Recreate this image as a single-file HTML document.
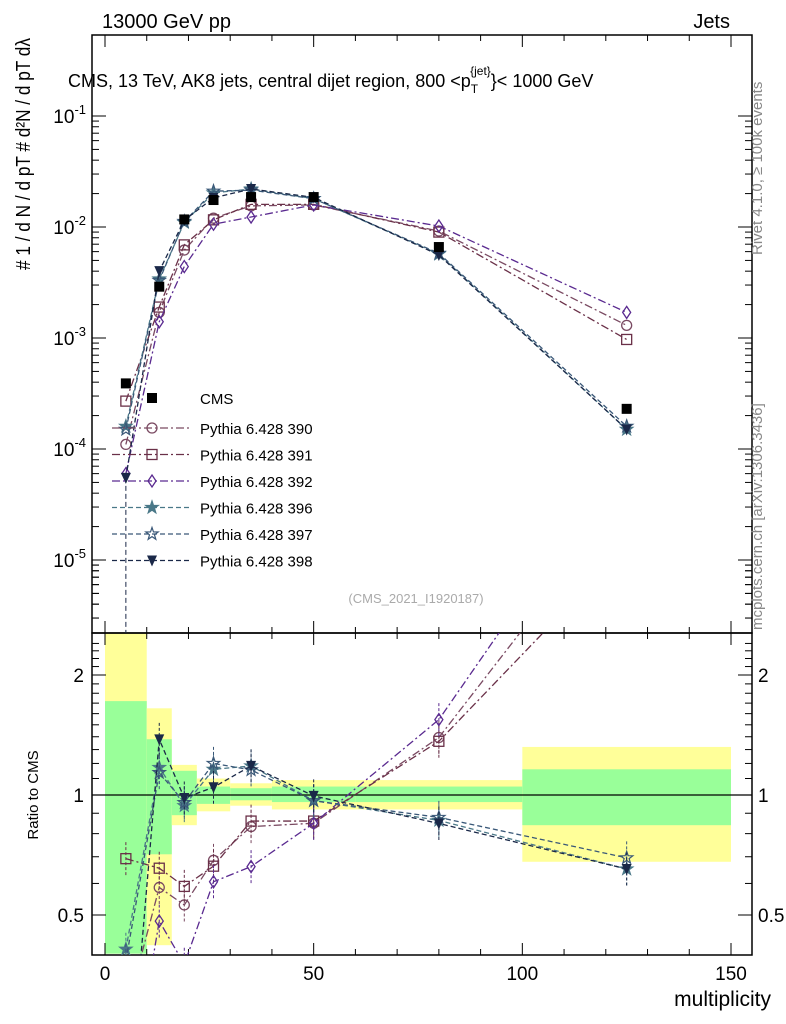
<!DOCTYPE html>
<html><head><meta charset="utf-8"><style>
html,body{margin:0;background:#fff;width:786px;height:1024px;overflow:hidden;font-family:"Liberation Sans",sans-serif}
svg{display:block}
svg text{font-family:"Liberation Sans",sans-serif}
</style></head><body>
<svg id="chart" width="786" height="1024" xmlns="http://www.w3.org/2000/svg">
<g id="bands"></g><g id="axes"></g><g id="series"></g>
<text x="102" y="28" font-size="20">13000 GeV pp</text>
<text x="730" y="28" font-size="20" text-anchor="end">Jets</text>
<text x="68" y="87" font-size="18">CMS, 13 TeV, AK8 jets, central dijet region, 800 &lt;p<tspan font-size="12" dy="6">T</tspan><tspan font-size="12" dy="-18" dx="-8">{jet}</tspan><tspan dy="12">}&lt; 1000 GeV</tspan></text>
<text transform="translate(30,270) rotate(-90)" font-size="20" textLength="232" lengthAdjust="spacingAndGlyphs"># 1 / d N / d pT # d²N / d pT dλ</text>
<text transform="translate(762,255) rotate(-90)" font-size="15" fill="#888">Rivet 4.1.0, ≥ 100k events</text>
<text transform="translate(762,630) rotate(-90)" font-size="15" fill="#888">mcplots.cern.ch [arXiv:1306.3436]</text>
<text x="416" y="603" font-size="13" fill="#aaa" text-anchor="middle">(CMS_2021_I1920187)</text>
<text transform="translate(38,795) rotate(-90)" font-size="15" text-anchor="middle">Ratio to CMS</text>
<text x="771" y="1006" font-size="21" text-anchor="end">multiplicity</text>
<g id="legend"></g>
</svg>
<script>
const xs=[5,13,19,26,35,50,80,125];
const cms=[3.9e-4,2.9e-3,1.17e-2,1.75e-2,1.86e-2,1.86e-2,6.6e-3,2.3e-4];
const p390=[1.1e-4,1.7e-3,6.2e-3,1.2e-2,1.55e-2,1.58e-2,9.2e-3,1.3e-3];
const p391=[2.7e-4,1.9e-3,6.9e-3,1.16e-2,1.6e-2,1.6e-2,9.0e-3,9.7e-4];
const p392=[6e-5,1.4e-3,4.4e-3,1.06e-2,1.23e-2,1.58e-2,1.02e-2,1.7e-3];
const p396=[1.6e-4,3.4e-3,1.1e-2,2.03e-2,2.2e-2,1.8e-2,5.7e-3,1.5e-4];
const p397=[1.5e-4,3.3e-3,1.12e-2,2.1e-2,2.15e-2,1.8e-2,5.8e-3,1.6e-4];
const p398=[5.5e-5,4.0e-3,1.15e-2,1.83e-2,2.2e-2,1.85e-2,5.6e-3,1.5e-4];
const binEdges=[0,10,16,22,30,40,60,100,150];
const yellowHi=[2.55,1.65,1.19,1.10,1.07,1.09,1.09,1.32];
const yellowLo=[0.40,0.42,0.84,0.91,0.94,0.92,0.92,0.68];
const greenHi=[1.72,1.38,1.15,1.05,1.04,1.05,1.05,1.16];
const greenLo=[0.40,0.71,0.89,0.95,0.97,0.96,0.96,0.84];
const xTicks=[0,50,100,150];
const yDecades=[-1,-2,-3,-4,-5];
const rTicks=[2,1,0.5];
const NS="http://www.w3.org/2000/svg";
const X=v=>105+v*(626/150);
const Y=v=>116-(Math.log10(v)+1)*111;
const R=v=>795-Math.log2(v)*120;
const L=92,Rt=752,T=35,M=633,B=955;
function mk(p,tag,at){const e=document.createElementNS(NS,tag);for(const k in at)e.setAttribute(k,at[k]);p.appendChild(e);return e;}
const bands=document.getElementById('bands'),axes=document.getElementById('axes'),ser=document.getElementById('series'),leg=document.getElementById('legend');
const cl=v=>Math.max(M,Math.min(B,v));
for(let i=0;i<binEdges.length-1;i++){
 const x0=X(binEdges[i]),x1=X(binEdges[i+1]);
 let e=mk(bands,'rect',{x:x0,y:cl(R(yellowHi[i])),width:x1-x0,height:cl(R(yellowLo[i]))-cl(R(yellowHi[i])),fill:'#ffff99'});
 
 
 e=mk(bands,'rect',{x:x0,y:cl(R(greenHi[i])),width:x1-x0,height:cl(R(greenLo[i]))-cl(R(greenHi[i])),fill:'#99ff99'});
 
 
}
mk(axes,'rect',{x:L,y:T,width:Rt-L,height:M-T,fill:'none',stroke:'#000','stroke-width':1.5});
mk(axes,'rect',{x:L,y:M,width:Rt-L,height:B-M,fill:'none',stroke:'#000','stroke-width':1.5});
mk(axes,'line',{x1:L,x2:Rt,y1:R(1),y2:R(1),stroke:'#000','stroke-width':1.2});
for(let v=0;v<=150;v+=10){const big=v%50==0;
 for(const [y,d] of [[T,1],[M,-1],[M,1],[B,-1]]) mk(axes,'line',{x1:X(v),x2:X(v),y1:y,y2:y+d*(big?12:6),stroke:'#000'});}
xTicks.forEach(v=>{const t=mk(axes,'text',{x:X(v),y:980,'font-size':19,'text-anchor':'middle'});t.textContent=v;
 
 });
yDecades.forEach(d=>{const y=Y(Math.pow(10,d));mk(axes,'line',{x1:L,x2:L+14,y1:y,y2:y,stroke:'#000'});mk(axes,'line',{x1:Rt,x2:Rt-14,y1:y,y2:y,stroke:'#000'});
 for(let k=2;k<10;k++){const yy=Y(k*Math.pow(10,d-1));if(yy>T&&yy<M){mk(axes,'line',{x1:L,x2:L+7,y1:yy,y2:yy,stroke:'#000'});mk(axes,'line',{x1:Rt,x2:Rt-7,y1:yy,y2:yy,stroke:'#000'});}}
 const t=mk(axes,'text',{x:L-6,y:y+7,'font-size':19,'text-anchor':'end'});t.innerHTML='10<tspan font-size="13" dy="-9">'+d+'</tspan>';
 
 });
for(let k=2;k<10;k++){const yy=Y(k*1e-6);if(yy<M){mk(axes,'line',{x1:L,x2:L+7,y1:yy,y2:yy,stroke:'#000'});mk(axes,'line',{x1:Rt,x2:Rt-7,y1:yy,y2:yy,stroke:'#000'});}}
rTicks.forEach(v=>{const y=R(v);mk(axes,'line',{x1:L,x2:L+14,y1:y,y2:y,stroke:'#000'});mk(axes,'line',{x1:Rt,x2:Rt-14,y1:y,y2:y,stroke:'#000'});
 for(const [x,a] of [[L-8,'end'],[Rt+6,'start']]){const t=mk(axes,'text',{x:x,y:y+7,'font-size':19,'text-anchor':a});t.textContent=v;
 
 }});
for(let v=0.5;v<2.5;v+=0.1){const y=R(v);if(y>M&&y<B){mk(axes,'line',{x1:L,x2:L+7,y1:y,y2:y,stroke:'#000'});mk(axes,'line',{x1:Rt,x2:Rt-7,y1:y,y2:y,stroke:'#000'});}}
function marker(g,type,x,y,c){
 if(type=='fsq')return mk(g,'rect',{x:x-5,y:y-5,width:10,height:10,fill:'#000'});
 if(type=='circ')return mk(g,'circle',{cx:x,cy:y,r:5,fill:'none',stroke:c,'stroke-width':1.3});
 if(type=='sq')return mk(g,'rect',{x:x-5,y:y-5,width:10,height:10,fill:'none',stroke:c,'stroke-width':1.3});
 if(type=='dia')return mk(g,'polygon',{points:`${x},${y-6} ${x+4},${y} ${x},${y+6} ${x-4},${y}`,fill:'none',stroke:c,'stroke-width':1.3});
 if(type=='star'||type=='star2'){let p=[];for(let i=0;i<10;i++){const r=i%2?2.6:6.5,a=-Math.PI/2+i*Math.PI/5;p.push((x+r*Math.cos(a)).toFixed(1)+','+(y+r*Math.sin(a)).toFixed(1));}
  return mk(g,'polygon',{points:p.join(' '),fill:type=='star'?c:'none',stroke:c,'stroke-width':1.2});}
 if(type=='tri')return mk(g,'polygon',{points:`${x-5},${y-5} ${x+5},${y-5} ${x},${y+6}`,fill:c});
}
const models=[
 {n:'Pythia 6.428 390',d:p390,c:'#7a4a62',m:'circ',dash:'8,3,2,3'},
 {n:'Pythia 6.428 391',d:p391,c:'#6a3048',m:'sq',dash:'8,3,2,3'},
 {n:'Pythia 6.428 392',d:p392,c:'#5a2a90',m:'dia',dash:'8,3,2,3'},
 {n:'Pythia 6.428 396',d:p396,c:'#4a7888',m:'star',dash:'5,3'},
 {n:'Pythia 6.428 397',d:p397,c:'#3a5878',m:'star2',dash:'5,3'},
 {n:'Pythia 6.428 398',d:p398,c:'#1a2848',m:'tri',dash:'5,3'}];
const clipTop=mk(ser,'clipPath',{id:'ct'});mk(clipTop,'rect',{x:L,y:T,width:Rt-L,height:M-T});
const clipBot=mk(ser,'clipPath',{id:'cb'});mk(clipBot,'rect',{x:L,y:M,width:Rt-L,height:B-M});
models.forEach((md,mi)=>{
 const g=mk(ser,'g',{'clip-path':'url(#ct)'});
 
 
 mk(g,'polyline',{points:xs.map((x,i)=>X(x)+','+Y(md.d[i])).join(' '),fill:'none',stroke:md.c,'stroke-width':1.3,'stroke-dasharray':md.dash});
 xs.forEach((x,i)=>marker(g,md.m,X(x),Y(md.d[i]),md.c));
 const g2=mk(ser,'g',{'clip-path':'url(#cb)'});
 
 
 mk(g2,'polyline',{points:xs.map((x,i)=>X(x)+','+R(md.d[i]/cms[i])).join(' '),fill:'none',stroke:md.c,'stroke-width':1.3,'stroke-dasharray':md.dash});
 xs.forEach((x,i)=>{const r=md.d[i]/cms[i];mk(g2,'line',{x1:X(x),x2:X(x),y1:R(r*1.1),y2:R(r/1.1),stroke:md.c,'stroke-dasharray':'3,2'});marker(g2,md.m,X(x),R(r),md.c);});
 const ly=428+mi*26.5;
 const lg=mk(leg,'g',{});
 
 
 mk(lg,'line',{x1:112,x2:192,y1:ly,y2:ly,stroke:md.c,'stroke-width':1.3,'stroke-dasharray':md.dash});
 marker(lg,md.m,152,ly,md.c);
 const t=mk(lg,'text',{x:200,y:ly+6,'font-size':15});t.textContent=md.n;
});
const gc=mk(ser,'g',{'clip-path':'url(#ct)'});


xs.forEach((x,i)=>marker(gc,'fsq',X(x),Y(cms[i])));
mk(gc,'line',{x1:X(5),x2:X(5),y1:Y(5.5e-5),y2:M,stroke:'#1a2848','stroke-dasharray':'5,3'});
const lc=mk(leg,'g',{});


marker(lc,'fsq',152,398);const tc=mk(lc,'text',{x:200,y:404,'font-size':15});tc.textContent='CMS';
</script>
</body></html>
